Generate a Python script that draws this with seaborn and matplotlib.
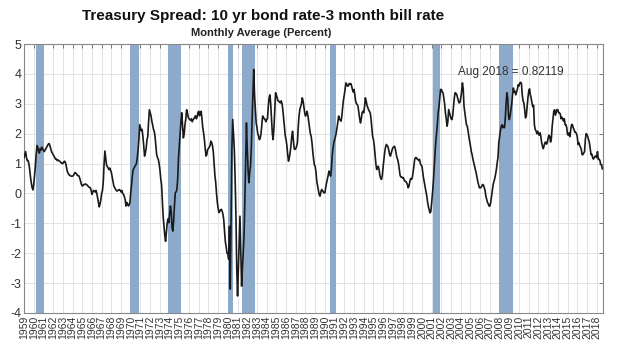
import matplotlib
matplotlib.use("Agg")
import matplotlib.pyplot as plt
import seaborn as sns
import numpy as np
import pandas as pd

# monthly spread (10yr - 3mo), one row per year, Jan 1959 .. Aug 2018
start_year = 1959
spread = [
    1.2, 1.3, 1.4, 1.2, 1.1, 1.1, 1.0, 0.8, 0.55, 0.35, 0.2, 0.12,          # 1959
    0.3, 0.6, 0.9, 1.3, 1.6, 1.55, 1.4, 1.35, 1.5, 1.45, 1.55, 1.5,         # 1960
    1.45, 1.4, 1.45, 1.5, 1.55, 1.6, 1.65, 1.67, 1.6, 1.5, 1.4, 1.35,       # 1961
    1.3, 1.25, 1.2, 1.15, 1.15, 1.1, 1.12, 1.1, 1.08, 1.05, 1.03, 1.0,      # 1962
    1.0, 1.05, 1.08, 1.05, 0.95, 0.8, 0.7, 0.65, 0.62, 0.6, 0.58, 0.58,     # 1963
    0.58, 0.6, 0.65, 0.7, 0.68, 0.65, 0.6, 0.6, 0.58, 0.5, 0.4, 0.3,        # 1964
    0.25, 0.27, 0.3, 0.3, 0.32, 0.3, 0.28, 0.25, 0.22, 0.2, 0.19, 0.1,      # 1965
    -0.03, 0.05, 0.1, 0.08, 0.05, 0.1, 0.0, -0.15, -0.3, -0.45, -0.35, -0.2,  # 1966
    0.0, 0.1, 0.4, 1.0, 1.42, 1.2, 0.95, 0.9, 0.85, 0.8, 0.85, 0.78,        # 1967
    0.7, 0.55, 0.4, 0.25, 0.2, 0.15, 0.1, 0.08, 0.1, 0.12, 0.13, 0.1,       # 1968
    0.05, 0.1, 0.0, -0.03, -0.1, -0.2, -0.42, -0.3, -0.35, -0.42, -0.38, -0.3,  # 1969
    0.05, 0.3, 0.6, 0.8, 0.85, 0.9, 0.95, 1.0, 1.2, 1.45, 1.8, 2.3,         # 1970
    2.2, 2.1, 2.14, 1.9, 1.6, 1.25, 1.35, 1.5, 1.8, 1.9, 2.4, 2.8,          # 1971
    2.7, 2.6, 2.42, 2.3, 2.15, 2.08, 1.9, 1.6, 1.3, 1.2, 1.14, 1.0,         # 1972
    0.8, 0.5, 0.3, -0.2, -0.76, -1.1, -1.4, -1.6, -1.3, -1.0, -0.85, -0.98,  # 1973
    -0.7, -0.42, -0.6, -1.15, -1.26, -0.9, -0.4, 0.02, 0.05, 0.13, 0.5, 1.2,  # 1974
    1.6, 2.03, 2.4, 2.7, 2.3, 1.86, 2.0, 2.3, 2.5, 2.8, 2.7, 2.55,          # 1975
    2.5, 2.47, 2.45, 2.5, 2.4, 2.47, 2.5, 2.55, 2.6, 2.5, 2.55, 2.7,        # 1976
    2.75, 2.6, 2.7, 2.75, 2.5, 2.2, 2.03, 1.8, 1.5, 1.25, 1.3, 1.47,        # 1977
    1.5, 1.55, 1.6, 1.75, 1.7, 1.6, 1.4, 1.0, 0.6, 0.36, 0.0, -0.3,         # 1978
    -0.5, -0.64, -0.6, -0.55, -0.53, -0.6, -0.7, -0.9, -1.3, -1.64, -1.8, -2.0,  # 1979
    -2.0, -2.2, -1.1, -3.2, -1.0, 1.5, 2.48, 2.0, 1.47, 0.5, -0.76, -2.5,   # 1980
    -3.43, -2.5, -1.5, -0.76, -2.0, -3.1, -2.5, -2.0, -1.42, -0.3, 1.0, 2.36,  # 1981
    1.5, 0.8, 0.36, 0.7, 0.91, 1.5, 2.5, 3.3, 4.15, 3.3, 2.8, 2.36,         # 1982
    2.2, 2.0, 1.92, 1.8, 1.85, 2.0, 2.3, 2.59, 2.55, 2.5, 2.48, 2.4,        # 1983
    2.48, 2.5, 2.9, 3.2, 3.3, 3.0, 2.5, 2.0, 1.8, 2.2, 2.8, 3.37,           # 1984
    3.3, 3.2, 3.1, 3.09, 3.05, 3.03, 3.1, 3.0, 2.8, 2.5, 2.2, 1.92,         # 1985
    1.8, 1.6, 1.3, 1.08, 1.2, 1.36, 1.6, 1.9, 2.08, 1.8, 1.5, 1.47,         # 1986
    1.5, 1.58, 1.7, 2.2, 2.6, 2.81, 2.9, 3.0, 3.2, 3.1, 2.9, 2.7,           # 1987
    2.59, 2.65, 2.75, 2.6, 2.4, 2.2, 2.0, 1.92, 1.7, 1.4, 1.15, 0.95,       # 1988
    0.91, 0.7, 0.4, 0.25, 0.1, -0.05, -0.09, 0.05, 0.13, 0.1, 0.05, 0.02,   # 1989
    0.02, 0.2, 0.35, 0.47, 0.6, 0.75, 0.7, 0.58, 0.8, 1.25, 1.5, 1.7,       # 1990
    1.8, 1.9, 2.03, 2.2, 2.4, 2.59, 2.5, 2.45, 2.42, 2.6, 2.9, 3.14,        # 1991
    3.3, 3.5, 3.7, 3.65, 3.59, 3.6, 3.68, 3.65, 3.68, 3.6, 3.48, 3.4,       # 1992
    3.48, 3.3, 3.09, 3.0, 2.98, 2.9, 2.7, 2.5, 2.36, 2.5, 2.7, 2.75,        # 1993
    2.7, 2.9, 3.2, 3.1, 2.95, 2.87, 2.8, 2.75, 2.7, 2.5, 2.2, 1.9,          # 1994
    1.81, 1.6, 1.3, 1.0, 0.8, 0.85, 0.91, 0.8, 0.6, 0.5, 0.47, 0.6,         # 1995
    0.9, 1.14, 1.4, 1.55, 1.64, 1.6, 1.56, 1.45, 1.3, 1.25, 1.35, 1.45,     # 1996
    1.53, 1.55, 1.58, 1.5, 1.35, 1.2, 1.14, 1.0, 0.8, 0.6, 0.55, 0.55,      # 1997
    0.52, 0.53, 0.45, 0.41, 0.4, 0.36, 0.3, 0.19, 0.25, 0.4, 0.5, 0.47,     # 1998
    0.52, 0.7, 0.9, 1.14, 1.2, 1.2, 1.15, 1.14, 1.1, 1.14, 1.0, 0.95,       # 1999
    0.91, 0.7, 0.5, 0.36, 0.2, 0.05, -0.09, -0.3, -0.45, -0.55, -0.65, -0.6,  # 2000
    -0.3, 0.0, 0.36, 0.8, 1.2, 1.7, 2.0, 2.3, 2.7, 2.9, 3.2, 3.48,          # 2001
    3.48, 3.4, 3.37, 3.2, 3.0, 2.7, 2.5, 2.25, 2.4, 2.81, 2.7, 2.6,         # 2002
    2.5, 2.47, 2.6, 2.9, 3.2, 3.37, 3.35, 3.31, 3.2, 3.1, 3.03, 3.05,       # 2003
    3.2, 3.4, 3.7, 3.5, 2.92, 2.7, 2.5, 2.3, 2.25, 2.1, 1.9, 1.75,          # 2004
    1.58, 1.4, 1.3, 1.15, 1.03, 0.9, 0.8, 0.69, 0.55, 0.4, 0.3, 0.19,       # 2005
    0.19, 0.2, 0.25, 0.3, 0.28, 0.2, 0.1, -0.09, -0.2, -0.3, -0.35, -0.42,  # 2006
    -0.42, -0.3, -0.1, 0.1, 0.3, 0.4, 0.5, 0.64, 0.8, 1.03, 1.2, 1.7,       # 2007
    1.9, 2.1, 2.25, 2.3, 2.2, 2.25, 2.2, 2.5, 3.0, 3.37, 3.2, 2.6,          # 2008
    2.47, 2.6, 2.8, 3.0, 3.3, 3.53, 3.4, 3.42, 3.3, 3.4, 3.5, 3.64,         # 2009
    3.6, 3.7, 3.72, 3.68, 3.3, 3.1, 3.03, 2.8, 2.53, 2.6, 2.9, 3.2,         # 2010
    3.42, 3.5, 3.3, 3.2, 3.03, 2.9, 2.95, 2.3, 2.14, 2.1, 2.0, 2.08,        # 2011
    2.0, 1.95, 2.03, 1.9, 1.7, 1.58, 1.5, 1.6, 1.7, 1.72, 1.65, 1.72,       # 2012
    1.86, 1.95, 1.9, 1.72, 1.85, 2.25, 2.5, 2.75, 2.8, 2.62, 2.72, 2.81,    # 2013
    2.8, 2.7, 2.7, 2.66, 2.5, 2.55, 2.5, 2.42, 2.5, 2.3, 2.3, 2.2,          # 2014
    1.97, 1.95, 2.03, 1.9, 2.15, 2.31, 2.3, 2.2, 2.14, 2.05, 2.05, 2.0,     # 2015
    1.9, 1.64, 1.7, 1.6, 1.55, 1.47, 1.3, 1.3, 1.35, 1.4, 1.8, 2.0,         # 2016
    1.97, 1.9, 1.8, 1.7, 1.5, 1.3, 1.32, 1.2, 1.15, 1.2, 1.25, 1.25,        # 2017
    1.2, 1.4, 1.14, 1.15, 1.1, 0.97, 0.95, 0.82,                            # 2018
]

# NBER recessions (decimal years)
rec_start = [1960.25, 1969.917, 1973.833, 1980.0, 1981.5, 1990.5, 2001.167, 2007.917]
rec_end = [1961.083, 1970.833, 1975.167, 1980.5, 1982.833, 1991.167, 2001.833, 2009.417]

year_ticks = list(range(1959, 2019))
y_ticks = list(range(-4, 6))

df = pd.DataFrame({'date': start_year + np.arange(len(spread)) / 12, 'spread': spread})

sns.set_style("white")
plt.rcParams['font.family'] = ['Liberation Sans', 'DejaVu Sans']

fig = plt.figure(figsize=(6.24, 3.61), dpi=100)
ax = fig.add_axes([0.0385, 0.133, 0.9275, 0.745])

# grid
for yr in year_ticks:
    ax.axvline(yr, color='#e3e3e3', lw=0.7, zorder=0)
for v in y_ticks:
    ax.axhline(v, color='#e3e3e3', lw=0.7, zorder=0)

# recession bars
for s, e in zip(rec_start, rec_end):
    ax.axvspan(s, e, color='#8eaaca', lw=0, zorder=1)

sns.lineplot(data=df, x='date', y='spread', color='#1a1a1a', lw=1.2, ax=ax, zorder=3)

ax.set_xlim(1959, 2018.63)
ax.set_ylim(-4, 5)
ax.set_xticks(year_ticks)
ax.set_xticklabels([str(y) for y in year_ticks], rotation=90, fontsize=7.5, color='#333333')
ax.set_yticks(y_ticks)
ax.set_yticklabels([str(v) for v in y_ticks], fontsize=9, color='#333333')
ax.tick_params(axis='both', direction='in', length=3, width=0.7, color='#777777',
               top=True, right=True, pad=2)
ax.set_xlabel('')
ax.set_ylabel('')
for sp in ax.spines.values():
    sp.set_color('#888888')
    sp.set_linewidth(0.8)

ax.text(2009.2, 4.05, 'Aug 2018 = 0.82119', ha='center', va='center', fontsize=8.5,
        color='#333333', zorder=4)

fig.text(263 / 624, 1 - 16 / 361, 'Treasury Spread: 10 yr bond rate-3 month bill rate',
         ha='center', va='center', fontsize=11, fontweight='bold', color='#111111')
fig.text(261 / 624, 1 - 33 / 361, 'Monthly Average (Percent)', ha='center', va='center',
         fontsize=8, fontweight='bold', color='#222222')

plt.savefig('out.png', dpi=100)
